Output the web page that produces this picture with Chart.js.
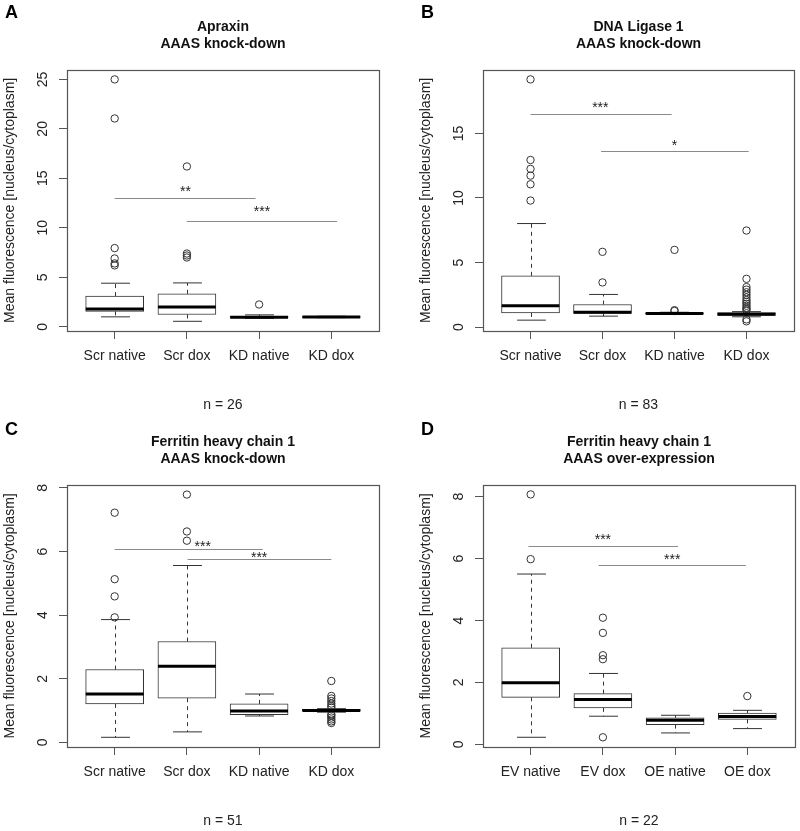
<!DOCTYPE html>
<html>
<head>
<meta charset="utf-8">
<script src="https://cdn.jsdelivr.net/npm/chart.js@4.4.1/dist/chart.umd.min.js"></script>
<style>
body { margin: 0; background: #fff; }
#wrap { position: relative; width: 800px; height: 831px; }
canvas { position: absolute; }
</style>
</head>
<body>
<div id="wrap">
  <canvas id="cA" width="400" height="415" style="left:0;top:0"></canvas>
  <canvas id="cB" width="400" height="415" style="left:400px;top:0"></canvas>
  <canvas id="cC" width="400" height="416" style="left:0;top:415px"></canvas>
  <canvas id="cD" width="400" height="416" style="left:400px;top:415px"></canvas>
</div>
<script>
var FONT = '"Liberation Sans", Arial, Helvetica, sans-serif';
var yTitle = 'Mean fluorescence [nucleus/cytoplasm]';

// A: Apraxin, knock-down
var aCats = ['Scr native', 'Scr dox', 'KD native', 'KD dox'];
var aLow = [1.0, 0.55, 0.85, 0.92];
var aQ1 = [1.55, 1.24, 0.9, 0.95];
var aMed = [1.8, 2.0, 0.95, 0.98];
var aQ3 = [3.1, 3.33, 1.05, 1.02];
var aHigh = [4.4, 4.43, 1.2, 1.06];
var aOut = [[25.0, 21.05, 7.95, 6.9, 6.4, 6.2], [16.2, 7.4, 7.2, 7.0], [2.25], []];
var aTicks = [0, 5, 10, 15, 20, 25];
var aRange = [-0.43, 25.98];
var aSig = [
  {from: 1, to: 2.95, y: 13.03, sx: 1.98, sy: 14.04, text: '**'},
  {from: 2, to: 4.08, y: 10.7, sx: 3.04, sy: 12.03, text: '***'}
];

// B: DNA Ligase 1, knock-down
var bCats = ['Scr native', 'Scr dox', 'KD native', 'KD dox'];
var bLow = [0.54, 0.85, 0.98, 0.8];
var bQ1 = [1.1, 1.06, 1.02, 0.9];
var bMed = [1.65, 1.16, 1.06, 1.0];
var bQ3 = [3.97, 1.75, 1.1, 1.12];
var bHigh = [8.02, 2.53, 1.15, 1.2];
var bOut = [
  [19.18, 12.94, 12.25, 11.73, 11.06, 9.8],
  [5.83, 3.46],
  [5.98, 1.31, 1.25],
  [7.48, 3.74, 3.1, 2.9, 2.7, 2.5, 2.3, 2.1, 1.95, 1.8, 1.65, 1.5, 1.4, 1.3, 0.6, 0.45]
];
var bTicks = [0, 5, 10, 15];
var bRange = [-0.3, 19.93];
var bSig = [
  {from: 1, to: 2.96, y: 16.53, sx: 1.97, sy: 17.3, text: '***'},
  {from: 1.98, to: 4.03, y: 13.67, sx: 3.0, sy: 14.33, text: '*'}
];

// C: Ferritin heavy chain 1, knock-down
var cCats = ['Scr native', 'Scr dox', 'KD native', 'KD dox'];
var cLow = [0.16, 0.33, 0.83, 0.95];
var cQ1 = [1.21, 1.39, 0.87, 0.98];
var cMed = [1.52, 2.39, 0.99, 1.0];
var cQ3 = [2.29, 3.17, 1.21, 1.04];
var cHigh = [3.86, 5.56, 1.52, 1.06];
var cOut = [
  [7.22, 5.13, 4.59, 3.93],
  [7.79, 6.63, 6.34],
  [],
  [1.93, 1.46, 1.38, 1.3, 1.22, 1.15, 1.1, 0.88, 0.84, 0.78, 0.72, 0.66, 0.61]
];
var cTicks = [0, 2, 4, 6, 8];
var cRange = [-0.145, 8.1];
var cSig = [
  {from: 1, to: 3.05, y: 6.08, sx: 2.22, sy: 6.28, text: '***'},
  {from: 2.01, to: 4.0, y: 5.76, sx: 3.0, sy: 5.91, text: '***'}
];

// D: Ferritin heavy chain 1, over-expression
var dCats = ['EV native', 'EV dox', 'OE native', 'OE dox'];
var dLow = [0.23, 0.91, 0.37, 0.51];
var dQ1 = [1.52, 1.18, 0.64, 0.81];
var dMed = [1.99, 1.45, 0.78, 0.9];
var dQ3 = [3.12, 1.64, 0.86, 1.01];
var dHigh = [5.5, 2.29, 0.94, 1.1];
var dOut = [[8.07, 5.98], [4.09, 3.6, 2.88, 2.75, 0.23], [], [1.56]];
var dTicks = [0, 2, 4, 6, 8];
var dRange = [-0.084, 8.384];
var dSig = [
  {from: 0.97, to: 3.04, y: 6.4, sx: 2.0, sy: 6.74, text: '***'},
  {from: 1.94, to: 3.98, y: 5.8, sx: 2.96, sy: 6.07, text: '***'}
];

function seg(ctx, x1, y1, x2, y2) {
  ctx.beginPath();
  ctx.moveTo(x1, y1);
  ctx.lineTo(x2, y2);
  ctx.stroke();
}

var boxExtras = {
  id: 'boxExtras',
  beforeDatasetsDraw: function(chart, args, o) {
    var p = o.panel, xs = chart.scales.x, ys = chart.scales.y, ctx = chart.ctx;
    var cap = xs.getPixelForValue(1.2) - xs.getPixelForValue(1);
    ctx.save();
    ctx.strokeStyle = '#333';
    ctx.lineWidth = 1;
    p.cats.forEach(function(c, i) {
      var px = Math.round(xs.getPixelForValue(i + 1)) + 0.5;
      var yh = ys.getPixelForValue(p.high[i]), yl = ys.getPixelForValue(p.low[i]);
      ctx.setLineDash([4, 4]);
      seg(ctx, px, ys.getPixelForValue(p.q3[i]), px, yh);
      seg(ctx, px, ys.getPixelForValue(p.q1[i]), px, yl);
      ctx.setLineDash([]);
      seg(ctx, px - cap, yh, px + cap, yh);
      seg(ctx, px - cap, yl, px + cap, yl);
    });
    ctx.restore();
  },
  afterDatasetsDraw: function(chart, args, o) {
    var p = o.panel, xs = chart.scales.x, ys = chart.scales.y, ctx = chart.ctx;
    var half = xs.getPixelForValue(1.4) - xs.getPixelForValue(1);
    ctx.save();
    ctx.strokeStyle = '#000';
    ctx.lineWidth = 3;
    p.cats.forEach(function(c, i) {
      var px = xs.getPixelForValue(i + 1), py = ys.getPixelForValue(p.med[i]);
      seg(ctx, px - half, py, px + half, py);
    });
    ctx.restore();
  },
  afterDraw: function(chart, args, o) {
    var p = o.panel, xs = chart.scales.x, ys = chart.scales.y, ctx = chart.ctx;
    var a = chart.chartArea;
    ctx.save();
    // frame
    ctx.strokeStyle = '#555';
    ctx.lineWidth = 1.2;
    ctx.strokeRect(Math.round(a.left) + 0.5, Math.round(a.top) + 0.5,
      Math.round(a.right - a.left), Math.round(a.bottom - a.top));
    // significance lines
    ctx.strokeStyle = '#8a8a8a';
    ctx.lineWidth = 1;
    ctx.fillStyle = '#222';
    ctx.font = '14px ' + FONT;
    ctx.textAlign = 'center';
    ctx.textBaseline = 'alphabetic';
    p.sig.forEach(function(s) {
      var py = Math.round(ys.getPixelForValue(s.y)) + 0.5;
      seg(ctx, xs.getPixelForValue(s.from), py, xs.getPixelForValue(s.to), py);
      ctx.fillText(s.text, xs.getPixelForValue(s.sx), ys.getPixelForValue(s.sy) + 8);
    });
    // rotated y tick labels
    ctx.font = '14px ' + FONT;
    ctx.textBaseline = 'middle';
    ys.ticks.forEach(function(t) {
      ctx.save();
      ctx.translate(a.left - 24, ys.getPixelForValue(t.value));
      ctx.rotate(-Math.PI / 2);
      ctx.fillText(String(t.value), 0, 0);
      ctx.restore();
    });
    // panel letter
    ctx.fillStyle = '#000';
    ctx.font = 'bold 18px ' + FONT;
    ctx.textAlign = 'left';
    ctx.textBaseline = 'alphabetic';
    ctx.fillText(p.letter, p.letterX, p.letterY);
    ctx.restore();
  }
};

var panels = [
  {id: 'cA', letter: 'A', title: ['Apraxin', 'AAAS knock-down'], n: 'n = 26',
   cats: aCats, low: aLow, q1: aQ1, med: aMed, q3: aQ3, high: aHigh, out: aOut,
   ticks: aTicks, range: aRange, sig: aSig, padL: 0, padR: 21, letterX: 5, letterY: 18},
  {id: 'cB', letter: 'B', title: ['DNA Ligase 1', 'AAAS knock-down'], n: 'n = 83',
   cats: bCats, low: bLow, q1: bQ1, med: bMed, q3: bQ3, high: bHigh, out: bOut,
   ticks: bTicks, range: bRange, sig: bSig, padL: 16, padR: 6, letterX: 21, letterY: 18},
  {id: 'cC', letter: 'C', title: ['Ferritin heavy chain 1', 'AAAS knock-down'], n: 'n = 51',
   cats: cCats, low: cLow, q1: cQ1, med: cMed, q3: cQ3, high: cHigh, out: cOut,
   ticks: cTicks, range: cRange, sig: cSig, padL: 0, padR: 21, letterX: 5, letterY: 20},
  {id: 'cD', letter: 'D', title: ['Ferritin heavy chain 1', 'AAAS over-expression'], n: 'n = 22',
   cats: dCats, low: dLow, q1: dQ1, med: dMed, q3: dQ3, high: dHigh, out: dOut,
   ticks: dTicks, range: dRange, sig: dSig, padL: 16, padR: 4, letterX: 21, letterY: 20}
];

panels.forEach(function(p) {
  var boxes = p.cats.map(function(c, i) { return {x: i + 1, y: [p.q1[i], p.q3[i]]}; });
  var outs = [];
  p.out.forEach(function(list, i) {
    list.forEach(function(v) { outs.push({x: i + 1, y: v}); });
  });
  new Chart(document.getElementById(p.id), {
    type: 'bar',
    data: {
      datasets: [
        {type: 'bar', data: boxes, backgroundColor: '#fff', borderColor: '#333',
         borderWidth: 1, borderSkipped: false, barThickness: 58, order: 2},
        {type: 'scatter', data: outs, pointRadius: 3.7, pointBorderColor: '#333',
         pointBackgroundColor: 'rgba(0,0,0,0)', pointBorderWidth: 1, order: 1}
      ]
    },
    options: {
      responsive: false,
      animation: false,
      devicePixelRatio: 1,
      layout: {padding: {left: p.padL, right: p.padR, top: 0, bottom: 0}},
      plugins: {
        legend: {display: false},
        tooltip: {enabled: false},
        title: {display: true, text: p.title, fullSize: false, color: '#111',
                font: {family: FONT, size: 14, weight: 'bold'}, padding: {top: 18.5, bottom: 17.6}},
        boxExtras: {panel: p}
      },
      scales: {
        x: {
          type: 'linear', min: 0.34, max: 4.66, offset: false,
          afterBuildTicks: function(s) { s.ticks = p.cats.map(function(c, i) { return {value: i + 1}; }); },
          afterFit: function(s) { s.height = 84; },
          ticks: {callback: function(v) { return p.cats[v - 1]; }, font: {family: FONT, size: 14},
                  color: '#222', padding: 9, autoSkip: false, maxRotation: 0},
          grid: {drawOnChartArea: false, drawTicks: true, tickLength: 8, color: '#555', offset: false},
          border: {display: false},
          title: {display: true, text: p.n, color: '#222', font: {family: FONT, size: 14},
                  padding: {top: 0, bottom: 1}}
        },
        y: {
          type: 'linear', min: p.range[0], max: p.range[1],
          afterBuildTicks: function(s) { s.ticks = p.ticks.map(function(v) { return {value: v}; }); },
          afterFit: function(s) { s.width = 67; },
          ticks: {display: false},
          grid: {drawOnChartArea: false, drawTicks: true, tickLength: 8, color: '#555'},
          border: {display: false},
          title: {display: true, text: yTitle, color: '#222', font: {family: FONT, size: 14},
                  padding: {top: 1.6, bottom: 0}}
        }
      }
    },
    plugins: [boxExtras]
  });
});
</script>
</body>
</html>
